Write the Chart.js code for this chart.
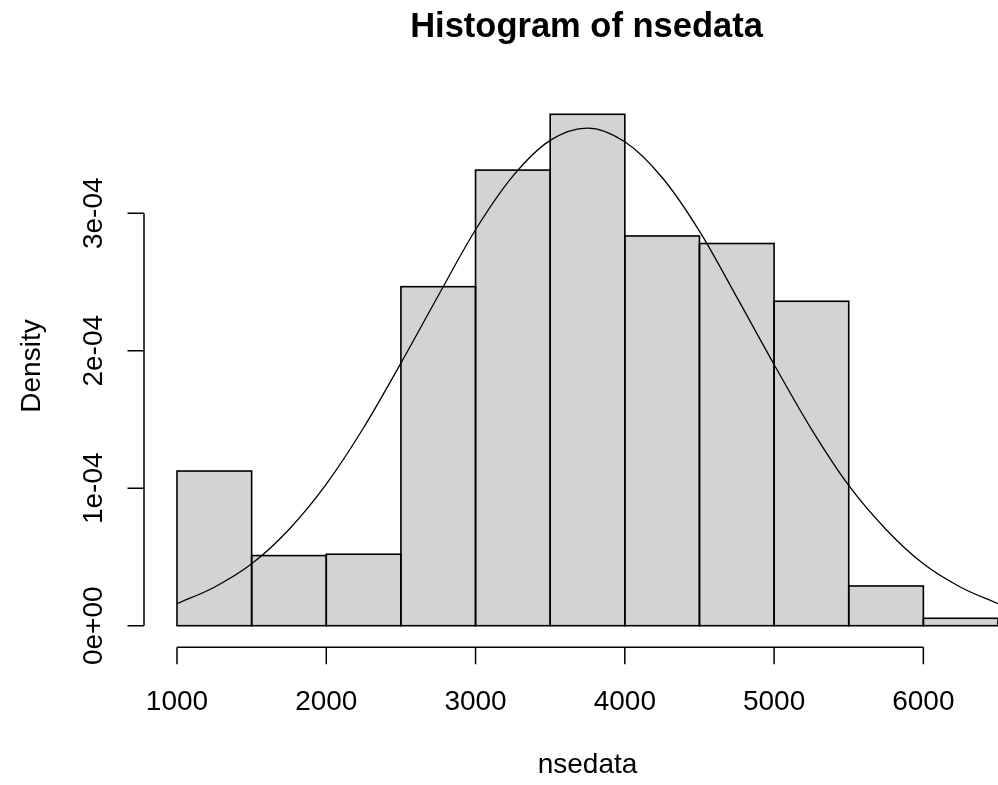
<!DOCTYPE html>
<html>
<head>
<meta charset="utf-8">
<title>Histogram of nsedata</title>
<script src="https://cdn.jsdelivr.net/npm/chart.js@4/dist/chart.umd.min.js"></script>
<style>
  html, body { margin: 0; padding: 0; background: #ffffff; overflow: hidden; }
  canvas { display: block; }
</style>
</head>
<body>
<canvas id="hist" width="998" height="785"></canvas>
<script>
// Histogram breaks (bin edges) and densities per bin
const breaks = [1000, 1500, 2000, 2500, 3000, 3500, 4000, 4500, 5000, 5500, 6000, 6500];
const densities = [1.125e-4, 0.51e-4, 0.52e-4, 2.466e-4, 3.314e-4, 3.72e-4,
                   2.835e-4, 2.78e-4, 2.36e-4, 0.289e-4, 0.054e-4];

// Fitted density curve, sampled along x
const curveX = [1000, 1250, 1500, 1750, 2000, 2250, 2500, 2750, 3000, 3250, 3500, 3750,
                4000, 4250, 4500, 4750, 5000, 5250, 5500, 5750, 6000, 6250, 6500];
const curveY = [0.16e-4, 0.28e-4, 0.45e-4, 0.70e-4, 1.03e-4, 1.44e-4, 1.91e-4, 2.40e-4,
                2.88e-4, 3.27e-4, 3.53e-4, 3.62e-4, 3.52e-4, 3.26e-4, 2.87e-4, 2.39e-4,
                1.90e-4, 1.43e-4, 1.02e-4, 0.70e-4, 0.45e-4, 0.28e-4, 0.16e-4];

// Axis ticks and labels
const xTicks = [1000, 2000, 3000, 4000, 5000, 6000];
const yTicks = [0, 1e-4, 2e-4, 3e-4];
const yTickLabels = ['0e+00', '1e-04', '2e-04', '3e-04'];

const titleText = 'Histogram of nsedata';
const xTitle = 'nsedata';
const yTitle = 'Density';

const barData = densities.map((d, i) => ({ x: (breaks[i] + breaks[i + 1]) / 2, y: d }));
const lineData = curveX.map((x, i) => ({ x: x, y: curveY[i] }));

const FONT = '"Liberation Sans", Arial, Helvetica, sans-serif';

// Base-graphics style: white page, outlined bars, detached axes, rotated y labels
const rAxes = {
  id: 'rAxes',
  beforeDraw(chart) {
    const c = chart.ctx;
    c.save();
    c.fillStyle = '#ffffff';
    c.fillRect(0, 0, chart.width, chart.height);
    c.restore();
  },
  afterDatasetDraw(chart, args) {
    if (chart.data.datasets[args.index].type !== 'bar') return;
    const c = chart.ctx;
    const area = chart.chartArea;
    c.save();
    c.beginPath();
    c.rect(0, 0, area.right, chart.height);
    c.clip();
    c.strokeStyle = '#000000';
    c.lineWidth = 1.6;
    args.meta.data.forEach(bar => {
      const p = bar.getProps(['x', 'y', 'base', 'width'], true);
      c.strokeRect(p.x - p.width / 2, p.y, p.width, p.base - p.y);
    });
    c.restore();
  },
  afterDraw(chart) {
    const c = chart.ctx;
    const xs = chart.scales.x, ys = chart.scales.y;
    const area = chart.chartArea;
    c.save();
    c.strokeStyle = '#000000';
    c.fillStyle = '#000000';
    c.lineWidth = 1.5;

    // x axis
    const axY = area.bottom + 21.6;
    const x0 = xs.getPixelForValue(xTicks[0]);
    const x1 = xs.getPixelForValue(xTicks[xTicks.length - 1]);
    c.beginPath();
    c.moveTo(x0, axY); c.lineTo(x1, axY);
    xTicks.forEach(t => {
      const px = xs.getPixelForValue(t);
      c.moveTo(px, axY); c.lineTo(px, axY + 17);
    });
    c.stroke();
    c.font = '28px ' + FONT;
    c.textAlign = 'center';
    c.textBaseline = 'alphabetic';
    xTicks.forEach(t => {
      c.fillText(String(t), xs.getPixelForValue(t), area.bottom + 84.5);
    });

    // y axis
    const axX = area.left - 33;
    const yA = ys.getPixelForValue(yTicks[0]);
    const yB = ys.getPixelForValue(yTicks[yTicks.length - 1]);
    c.beginPath();
    c.moveTo(axX, yA); c.lineTo(axX, yB);
    yTicks.forEach(t => {
      const py = ys.getPixelForValue(t);
      c.moveTo(axX, py); c.lineTo(axX - 16.5, py);
    });
    c.stroke();
    yTicks.forEach((t, i) => {
      const py = ys.getPixelForValue(t);
      c.save();
      c.translate(axX - 42.5, py);
      c.rotate(-Math.PI / 2);
      c.fillText(yTickLabels[i], 0, 0);
      c.restore();
    });

    // titles
    const midX = (area.left + area.right) / 2;
    c.fillText(xTitle, midX, 773);
    c.save();
    c.translate(40, 366);
    c.rotate(-Math.PI / 2);
    c.fillText(yTitle, 0, 0);
    c.restore();

    c.font = 'bold 34.5px ' + FONT;
    c.fillText(titleText, midX - 1, 36.7);
    c.restore();
  }
};

new Chart(document.getElementById('hist'), {
  data: {
    datasets: [
      {
        type: 'line',
        data: lineData,
        borderColor: '#000000',
        borderWidth: 1.3,
        pointRadius: 0,
        cubicInterpolationMode: 'monotone',
        fill: false,
        order: 0
      },
      {
        type: 'bar',
        data: barData,
        backgroundColor: '#d3d3d3',
        borderWidth: 0,
        barPercentage: 1,
        categoryPercentage: 1,
        order: 1
      }
    ]
  },
  options: {
    responsive: false,
    animation: false,
    layout: { padding: { left: 177, right: 0, top: 75.8, bottom: 159.3 } },
    scales: {
      x: { type: 'linear', min: 1000, max: 6500, offset: false, display: false },
      y: { type: 'linear', min: 0, max: 4e-4, display: false }
    },
    plugins: {
      legend: { display: false },
      tooltip: { enabled: false },
      title: { display: false }
    }
  },
  plugins: [rAxes]
});
</script>
</body>
</html>
